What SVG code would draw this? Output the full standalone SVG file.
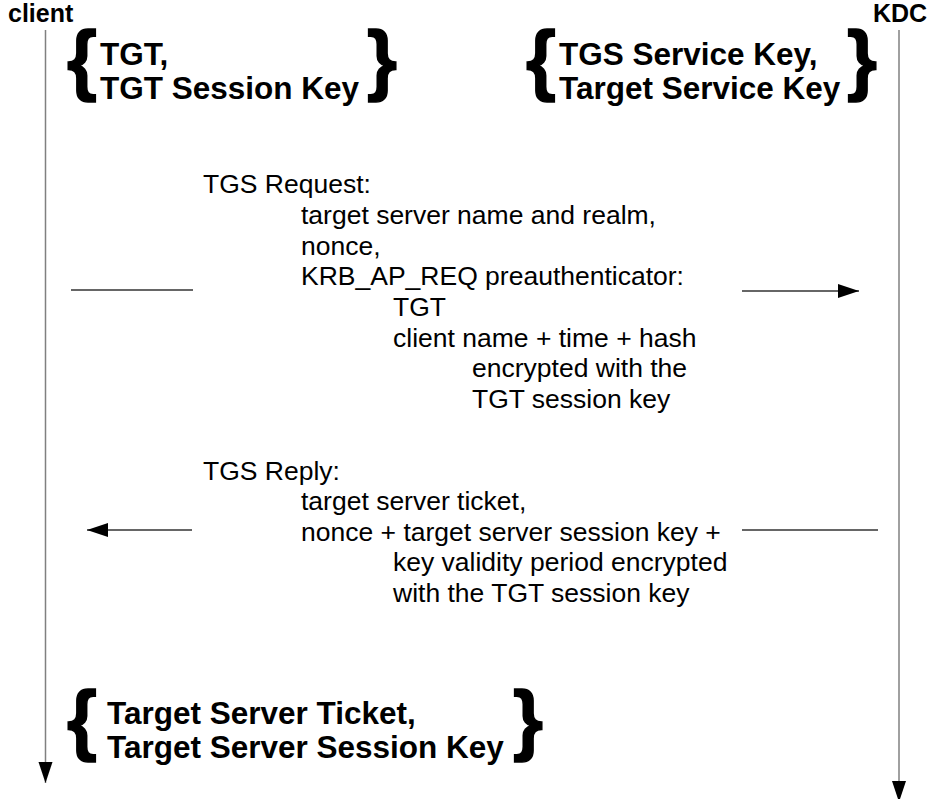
<svg xmlns="http://www.w3.org/2000/svg" width="927" height="799" viewBox="0 0 927 799">
<style>
.lbl{font-family:"Liberation Sans",Arial,sans-serif;font-weight:bold;font-size:25px;fill:#000}
.big{font-family:"Liberation Sans",Arial,sans-serif;font-weight:bold;font-size:31.5px;fill:#000}
.brace{font-family:"Liberation Sans",Arial,sans-serif;font-weight:bold;font-size:77px;fill:#000;stroke:#000;stroke-width:1.5}
.body{font-family:"Liberation Sans",Arial,sans-serif;font-size:26.5px;fill:#000}
.life{stroke:#808080;stroke-width:1.5;fill:none}
.msg{stroke:#333;stroke-width:1.5;fill:none}
</style>
<defs>
<marker id="ah" markerUnits="userSpaceOnUse" markerWidth="22" markerHeight="16" refX="21" refY="7" orient="auto">
<path d="M0,0 L21,7 L0,14 Z" fill="#000"/>
</marker>
</defs>
<g id="client">
<text class="lbl" x="8" y="22">client</text>
</g>
<g id="kdc">
<text class="lbl" x="873" y="22">KDC</text>
</g>
<g id="client-keys">
<text class="brace" x="67" y="86">{</text>
<text class="big" x="100" y="65">TGT,</text>
<text class="big" x="100" y="99">TGT Session Key</text>
<text class="brace" x="367" y="86">}</text>
</g>
<g id="kdc-keys">
<text class="brace" x="526" y="86">{</text>
<text class="big" x="559" y="65">TGS Service Key,</text>
<text class="big" x="559" y="99">Target Service Key</text>
<text class="brace" x="847" y="86">}</text>
</g>
<g id="tgs-request">
<text class="body" x="203" y="193">TGS Request:</text>
<text class="body" x="301" y="224">target server name and realm,</text>
<text class="body" x="301" y="255">nonce,</text>
<text class="body" x="301" y="285">KRB_AP_REQ preauthenticator:</text>
<text class="body" x="393" y="316">TGT</text>
<text class="body" x="393" y="347">client name + time + hash</text>
<text class="body" x="472" y="377">encrypted with the</text>
<text class="body" x="472" y="408">TGT session key</text>
</g>
<g id="tgs-reply">
<text class="body" x="203" y="480">TGS Reply:</text>
<text class="body" x="301" y="510">target server ticket,</text>
<text class="body" x="301" y="541">nonce + target server session key +</text>
<text class="body" x="393" y="571">key validity period encrypted</text>
<text class="body" x="393" y="602">with the TGT session key</text>
</g>
<g id="client-result">
<text class="brace" x="67" y="746">{</text>
<text class="big" x="107" y="724">Target Server Ticket,</text>
<text class="big" x="107" y="758">Target Server Session Key</text>
<text class="brace" x="513" y="746">}</text>
</g>
<g id="connectors">
<line class="life" x1="45.5" y1="30" x2="45.5" y2="783" marker-end="url(#ah)"/>
<line class="life" x1="899" y1="30" x2="899" y2="802" marker-end="url(#ah)"/>
<line class="msg" x1="71" y1="290" x2="193" y2="290"/>
<line class="msg" x1="742" y1="291" x2="859" y2="291" marker-end="url(#ah)"/>
<line class="msg" x1="878" y1="530" x2="742" y2="530"/>
<line class="msg" x1="192" y1="530" x2="87" y2="530" marker-end="url(#ah)"/>
</g>
</svg>
